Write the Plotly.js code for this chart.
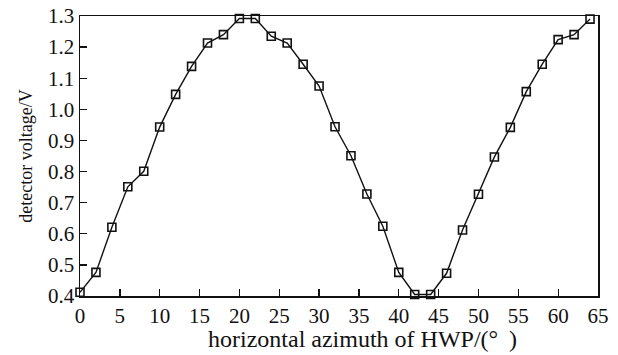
<!DOCTYPE html>
<html>
<head>
<meta charset="utf-8">
<script src="https://cdn.plot.ly/plotly-3.0.1.min.js"></script>
<style>html,body{margin:0;padding:0;background:#fff;}#chart{width:618px;height:355px;}</style>
</head>
<body>
<div id="chart"></div>
<script>
const azimuth = [0, 2, 4, 6, 8, 10, 12, 14, 16, 18, 20, 22, 24, 26, 28, 30, 32,
                 34, 36, 38, 40, 42, 44, 46, 48, 50, 52, 54, 56, 58, 60, 62, 64];
const voltage = [0.412, 0.476, 0.621, 0.751, 0.801, 0.943, 1.048, 1.138, 1.213, 1.240, 1.292, 1.292, 1.235, 1.213, 1.145, 1.075, 0.944,
                 0.851, 0.728, 0.624, 0.476, 0.405, 0.405, 0.473, 0.612, 0.727, 0.847, 0.942, 1.057, 1.145, 1.224, 1.240, 1.290];
const xTicks = [0, 5, 10, 15, 20, 25, 30, 35, 40, 45, 50, 55, 60, 65];
const yTicks = [0.4, 0.5, 0.6, 0.7, 0.8, 0.9, 1.0, 1.1, 1.2, 1.3];
const xTitle = "horizontal azimuth of HWP/(°\u2009 )";
const yTitle = "detector voltage/V";

const font = "'Times New Roman', 'Liberation Serif', Tinos, 'DejaVu Serif', serif";

Plotly.newPlot("chart", [{
  x: azimuth,
  y: voltage,
  type: "scatter",
  mode: "lines+markers",
  line: {color: "#111", width: 1.4},
  marker: {symbol: "square-open", size: 8, color: "#111", line: {width: 1.6, color: "#111"}},
  cliponaxis: false,
  showlegend: false
}], {
  width: 618,
  height: 355,
  margin: {l: 80, r: 20, t: 16, b: 59},
  paper_bgcolor: "#fff",
  plot_bgcolor: "#fff",
  font: {family: font, color: "#111", size: 21},
  xaxis: {
    range: [0, 65],
    tickvals: xTicks,
    ticktext: xTicks.map(String),
    ticks: "inside",
    ticklen: 7,
    tickwidth: 1.3,
    tickcolor: "#111",
    showline: true,
    linecolor: "#111",
    linewidth: 1.5,
    mirror: true,
    showgrid: false,
    zeroline: false,
    tickfont: {family: font, size: 21, color: "#111"}
  },
  yaxis: {
    range: [0.4, 1.3],
    tickvals: yTicks,
    ticktext: yTicks.map(v => v.toFixed(1)),
    ticks: "inside",
    ticklen: 7,
    tickwidth: 1.3,
    tickcolor: "#111",
    showline: true,
    linecolor: "#111",
    linewidth: 1.5,
    mirror: true,
    showgrid: false,
    zeroline: false,
    tickfont: {family: font, size: 21, color: "#111"},
    title: {text: yTitle, font: {family: font, size: 18, color: "#111"}, standoff: 10}
  },
  annotations: [{
    text: xTitle,
    xref: "paper", yref: "paper",
    x: 0.545, y: 0,
    xanchor: "center", yanchor: "top",
    yshift: -28,
    showarrow: false,
    font: {family: font, size: 24, color: "#111"}
  }]
}, {displayModeBar: false, staticPlot: true});
</script>
</body>
</html>
